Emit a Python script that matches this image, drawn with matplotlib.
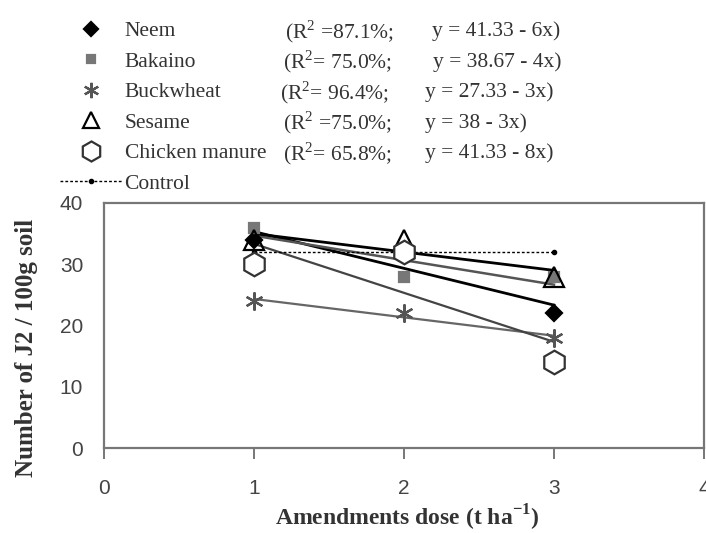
import numpy as np
import matplotlib.pyplot as plt
from matplotlib.lines import Line2D

doses = [1, 2, 3]
neem = [34, 32, 22]
bakaino = [36, 28, 28]
buckwheat = [24, 22, 18]
sesame = [34, 34, 28]
chicken = [30, 32, 14]
control = [32, 32, 32]

names = ["Neem", "Bakaino", "Buckwheat", "Sesame", "Chicken manure"]
r2_texts = ["(R$^2$ =87.1%;", "(R$^2$= 75.0%;", "(R$^2$= 96.4%;",
            "(R$^2$ =75.0%;", "(R$^2$= 65.8%;"]
eq_texts = ["y = 41.33 - 6x)", "y = 38.67 - 4x)", "y = 27.33 - 3x)",
            "y = 38 - 3x)", "y = 41.33 - 8x)"]
intercepts = [41.33, 38.67, 27.33, 38, 41.33]
slopes = [-6, -4, -3, -3, -8]

plt.rcParams['font.family'] = ['Liberation Serif', 'DejaVu Serif']
plt.rcParams['mathtext.fontset'] = 'custom'
plt.rcParams['mathtext.rm'] = 'Liberation Serif'
plt.rcParams['mathtext.bf'] = 'Liberation Serif:bold'

W, H = 706, 533
fig = plt.figure(figsize=(W / 100, H / 100), dpi=100)
ax = fig.add_axes([104 / W, 1 - 448 / H, 600 / W, 245 / H])

series = [neem, bakaino, buckwheat, sesame, chicken]
styles = [
    dict(marker='D', color='black', ms=8, mfc='black', line='black', lw=2.0),
    dict(marker='s', color='#777777', ms=7, mfc='#777777', line='#555555', lw=1.8),
    dict(marker=(6, 2, 0), color='#555555', ms=13, mfc='none', line='#666666', lw=1.6),
    dict(marker='^', color='black', ms=14, mfc='none', line='black', lw=2.0),
    dict(marker='h', color='#333333', ms=17, mfc='white', line='#444444', lw=1.6),
]

x = np.array(doses)
for vals, st, a, b in zip(series, styles, intercepts, slopes):
    ax.plot(x, a + b * x, color=st['line'], lw=st['lw'], zorder=2)
    ax.plot(x, vals, ls='none', marker=st['marker'], ms=st['ms'],
            mfc=st['mfc'], mec=st['color'], mew=1.6, zorder=3)
ax.plot(x, control, ls=(0, (2, 1.5)), color='black', lw=1.0,
        marker='o', ms=3, zorder=2)

ax.set_xlim(0, 4)
ax.set_ylim(0, 40)
ax.set_xticks([0, 1, 2, 3, 4])
ax.set_yticks([0, 10, 20, 30, 40])
for s in ax.spines.values():
    s.set_color('#777777')
    s.set_linewidth(1.6)
ax.tick_params(axis='x', colors='#777777', labelcolor='#444444',
               labelsize=15, direction='out', length=8, width=1.4, pad=14)
ax.tick_params(axis='y', colors='#777777', labelcolor='#444444',
               labelsize=15, length=0, pad=15)
for lab in ax.get_xticklabels() + ax.get_yticklabels():
    lab.set_family(['Liberation Sans', 'DejaVu Sans'])
ax.set_xlabel('Amendments dose (t ha$^{\\mathbf{-1}}$)', fontsize=17, fontweight='bold',
              color='#333333')
ax.set_ylabel('Number of J2 / 100g soil', fontsize=18, fontweight='bold',
              color='#333333')
ax.xaxis.set_label_coords(0.505, -0.222)
ax.yaxis.set_label_coords(-0.11, 0.41)

handles = []
for st in styles:
    handles.append(Line2D([], [], ls='none', marker=st['marker'], ms=st['ms'] * 0.85,
                          mfc=st['mfc'], mec=st['color'], mew=1.6))
handles.append(Line2D([], [], ls=(0, (2, 1.5)), color='black', lw=1.0,
                      marker='o', ms=3, markevery=[1]))
leg = fig.legend(handles, names + ["Control"], loc='upper left',
                 bbox_to_anchor=(60 / W, 1 - 21 / H), frameon=False,
                 handlelength=2.9, handletextpad=0.1, labelspacing=0.485,
                 borderaxespad=0, borderpad=0,
                 prop={'family': ['Liberation Serif'], 'size': 15.5})
for t in leg.get_texts():
    t.set_color('#333333')

fig.canvas.draw()
inv = fig.transFigure.inverted()
r2_x = [285, 283, 280, 283, 283]
eq_x = [432, 433, 425, 425, 425]
for t, r2, eq, rx, ex in zip(leg.get_texts()[:5], r2_texts, eq_texts, r2_x, eq_x):
    bb = t.get_window_extent()
    yc = inv.transform(((bb.x0 + bb.x1) / 2, (bb.y0 + bb.y1) / 2))[1]
    fig.text(rx / W, yc, r2, fontsize=15.5, va='center', color='#333333')
    fig.text(ex / W, yc, eq, fontsize=15.5, va='center', color='#333333')

fig.savefig('out.png', dpi=100)
